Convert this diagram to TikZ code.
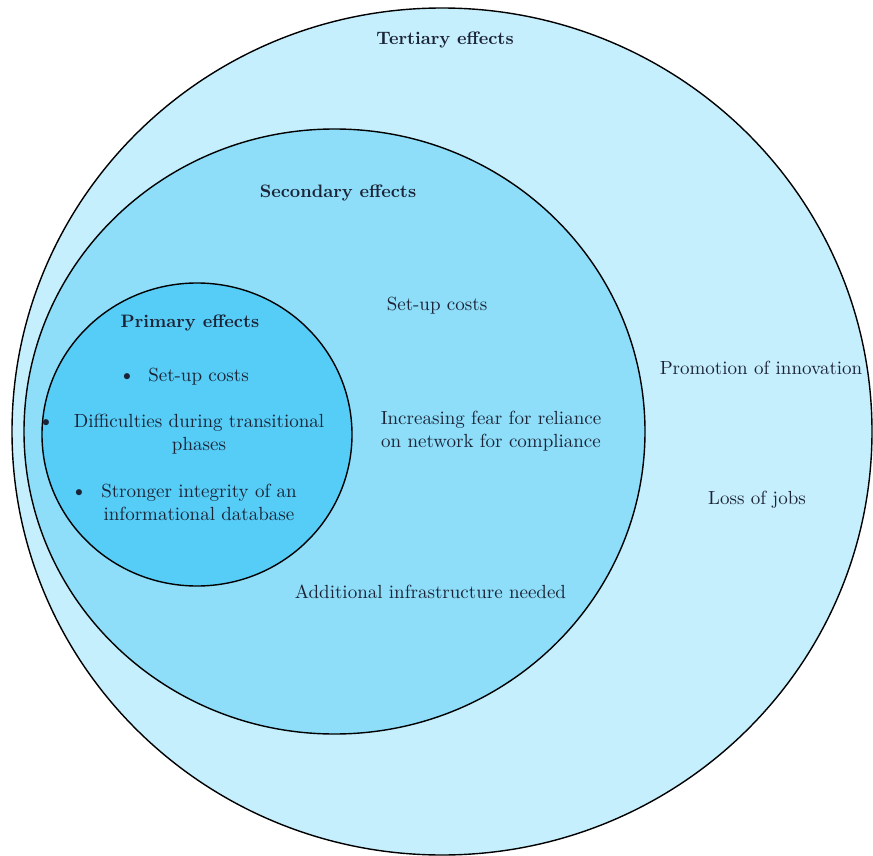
\documentclass[tikz,border=0pt]{standalone}
\usepackage{fontspec}
\setmainfont{lmroman10-regular.otf}[BoldFont=lmroman10-bold.otf]
\usetikzlibrary{shapes.geometric}

\definecolor{tertfill}{HTML}{C6EFFD}
\definecolor{secfill}{HTML}{8EDEF9}
\definecolor{primfill}{HTML}{56CDF6}
\definecolor{inkblue}{HTML}{1B2336}

\begin{document}
\begin{tikzpicture}[x=1pt, y=-1pt,
	zone/.style={draw, ellipse, line width=1.4pt, inner sep=0pt},
	txt/.style={text=inkblue, font=\fontsize{19}{23}\selectfont, align=center, anchor=base},
	head/.style={text=inkblue, font=\bfseries\fontsize{18}{22}\selectfont, anchor=base},
	dot/.style={text=inkblue, font=\fontsize{21}{21}\selectfont, anchor=base}]
	\useasboundingbox (0,0) rectangle (873,856);
	% the three rings
	\node[zone, fill=tertfill, minimum width=860pt, minimum height=847pt] (tert) at (442,431.5) {};
	\node[zone, fill=secfill, minimum width=621pt, minimum height=605pt] (sec) at (334.5,431.5) {};
	\node[zone, fill=primfill, minimum width=310pt, minimum height=303pt] (prim) at (197,434.5) {};
	% headings
	\node[head] (terthead) at (445,45) {Tertiary effects};
	\node[head] (sechead) at (338,197) {Secondary effects};
	\node[head] (primhead) at (190,327) {Primary effects};
	% tertiary items
	\node[txt] (innov) at (761,374) {Promotion of innovation};
	\node[txt] (jobs) at (757,504) {Loss of jobs};
	% secondary items (base = last line)
	\node[txt] (setupsec) at (437,310) {Set-up costs};
	\node[txt] (fear) at (491,447) {Increasing fear for reliance\\on network for compliance};
	\node[txt] (infra) at (430.5,598) {Additional infrastructure needed};
	% primary items
	\node[txt] (setupprim) at (198.5,381) {Set-up costs};
	\node[txt] (trans) at (199,450) {Difficulties during transitional\\phases};
	\node[txt] (integ) at (199,520) {Stronger integrity of an\\informational database};
	\node[dot] (b1) at (127,381) {\textbullet};
	\node[dot] (b2) at (46,427) {\textbullet};
	\node[dot] (b3) at (79,497) {\textbullet};
\end{tikzpicture}
\end{document}
